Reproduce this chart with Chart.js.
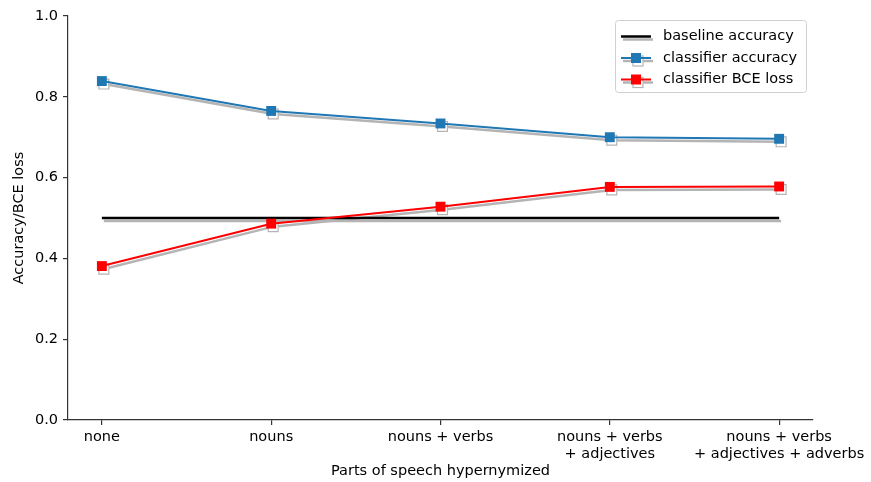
<!DOCTYPE html>
<html>
<head>
<meta charset="utf-8">
<script src="https://cdn.jsdelivr.net/npm/chart.js@4/dist/chart.umd.min.js"></script>
<style>
  html, body { margin: 0; padding: 0; background: #fff; }
  #chart { display: block; }
</style>
</head>
<body>
<canvas id="chart" width="871" height="482"></canvas>
<script>
// x categories (multi-line tick labels)
const categories = [
  ['none'],
  ['nouns'],
  ['nouns + verbs'],
  ['nouns + verbs', '+ adjectives'],
  ['nouns + verbs', '+ adjectives + adverbs']
];
const yTicks = [0.0, 0.2, 0.4, 0.6, 0.8, 1.0];

const baselineValues = [0.5, 0.5, 0.5, 0.5, 0.5];
const accuracyValues = [0.839, 0.765, 0.734, 0.700, 0.696];
const bceValues = [0.381, 0.486, 0.528, 0.577, 0.578];

const seriesNames = ['baseline accuracy', 'classifier accuracy', 'classifier BCE loss'];
const seriesColors = ['#000000', '#1f77b4', '#ff0000'];
const SHADOW = '#b4b4b4';
const FONT = "'DejaVu Sans', sans-serif";
const FSIZE = 14.5;

const toPoints = vals => vals.map((v, i) => ({ x: i, y: v }));

function mainSet(vals, color, marker, label) {
  return {
    label,
    data: toPoints(vals),
    borderColor: color,
    backgroundColor: color,
    borderWidth: marker ? 2 : 2.5,
    pointStyle: 'rect',
    pointRadius: marker ? 7 : 0,
    pointBorderWidth: 0,
    pointBackgroundColor: color,
    tension: 0,
    clip: false,
    order: 0
  };
}

function shadowSet(vals, marker) {
  return {
    label: '_shadow',
    isShadow: true,
    data: toPoints(vals),
    borderColor: SHADOW,
    backgroundColor: '#fff',
    borderWidth: 2.5,
    pointStyle: 'rect',
    pointRadius: marker ? 7 : 0,
    pointBorderWidth: 1.2,
    pointBorderColor: SHADOW,
    pointBackgroundColor: '#fff',
    tension: 0,
    clip: false,
    order: 1
  };
}

// offset shadow datasets a little right/down
const shadowPlugin = {
  id: 'shadow',
  beforeDatasetDraw(chart, args) {
    if (chart.data.datasets[args.index].isShadow) {
      chart.ctx.save();
      chart.ctx.translate(2, 3);
    }
  },
  afterDatasetDraw(chart, args) {
    if (chart.data.datasets[args.index].isShadow) chart.ctx.restore();
  }
};

// matplotlib-style legend box
const legendPlugin = {
  id: 'mplLegend',
  afterDraw(chart) {
    const ctx = chart.ctx;
    const x = 615, y = 20, w = 191, h = 72, rowH = 21.5;
    ctx.save();
    ctx.fillStyle = 'rgba(255,255,255,0.85)';
    ctx.strokeStyle = '#d0d0d0';
    ctx.lineWidth = 1;
    ctx.beginPath();
    ctx.roundRect(x + 0.5, y + 0.5, w, h, 3);
    ctx.fill();
    ctx.stroke();
    ctx.font = FSIZE + 'px ' + FONT;
    ctx.textBaseline = 'middle';
    seriesNames.forEach((name, i) => {
      const cy = y + 16.5 + i * rowH;
      const x0 = x + 6, x1 = x + 36, mx = (x0 + x1) / 2;
      // shadow
      ctx.strokeStyle = SHADOW;
      ctx.lineWidth = 2.5;
      ctx.beginPath(); ctx.moveTo(x0 + 2, cy + 3); ctx.lineTo(x1 + 2, cy + 3); ctx.stroke();
      if (i > 0) {
        ctx.fillStyle = '#fff';
        ctx.lineWidth = 1.2;
        ctx.fillRect(mx - 5 + 2, cy - 5 + 3, 10, 10);
        ctx.strokeRect(mx - 5 + 2, cy - 5 + 3, 10, 10);
      }
      ctx.strokeStyle = seriesColors[i];
      ctx.lineWidth = i > 0 ? 2 : 2.5;
      ctx.beginPath(); ctx.moveTo(x0, cy); ctx.lineTo(x1, cy); ctx.stroke();
      if (i > 0) {
        ctx.fillStyle = seriesColors[i];
        ctx.fillRect(mx - 5, cy - 5, 10, 10);
      }
      ctx.fillStyle = '#000';
      ctx.textAlign = 'left';
      ctx.fillText(name, x + 48, cy);
    });
    ctx.restore();
  }
};

new Chart(document.getElementById('chart'), {
  type: 'line',
  data: {
    datasets: [
      mainSet(bceValues, seriesColors[2], true, seriesNames[2]),
      mainSet(accuracyValues, seriesColors[1], true, seriesNames[1]),
      mainSet(baselineValues, seriesColors[0], false, seriesNames[0]),
      shadowSet(bceValues, true),
      shadowSet(accuracyValues, true),
      shadowSet(baselineValues, false)
    ]
  },
  options: {
    responsive: false,
    animation: false,
    events: [],
    layout: { padding: { top: 16, right: 58, left: 0, bottom: 0 } },
    plugins: {
      legend: { display: false },
      tooltip: { enabled: false }
    },
    scales: {
      x: {
        type: 'linear',
        min: -0.2,
        max: 4.2,
        afterBuildTicks: s => { s.ticks = categories.map((c, i) => ({ value: i })); },
        afterFit: s => { s.height = 62; },
        grid: { drawOnChartArea: false, tickLength: 5, color: '#333', lineWidth: 1.2 },
        border: { display: true, color: '#333', width: 1.2 },
        ticks: {
          color: '#000',
          padding: 4,
          maxRotation: 0,
          autoSkip: false,
          font: { family: FONT, size: FSIZE, lineHeight: 1.15 },
          callback: v => categories[v]
        },
        title: {
          display: true,
          text: 'Parts of speech hypernymized',
          color: '#000',
          font: { family: FONT, size: FSIZE },
          padding: { top: 0, bottom: 2 }
        }
      },
      y: {
        type: 'linear',
        min: 0,
        max: 1,
        afterBuildTicks: s => { s.ticks = yTicks.map(v => ({ value: v })); },
        afterFit: s => { s.width = 68; },
        grid: { drawOnChartArea: false, tickLength: 5, color: '#333', lineWidth: 1.2 },
        border: { display: true, color: '#333', width: 1.2 },
        ticks: {
          color: '#000',
          padding: 5,
          font: { family: FONT, size: FSIZE },
          callback: v => v.toFixed(1)
        },
        title: {
          display: true,
          text: 'Accuracy/BCE loss',
          color: '#000',
          font: { family: FONT, size: FSIZE },
          padding: { top: 11, bottom: 0 }
        }
      }
    }
  },
  plugins: [shadowPlugin, legendPlugin]
});
</script>
</body>
</html>
